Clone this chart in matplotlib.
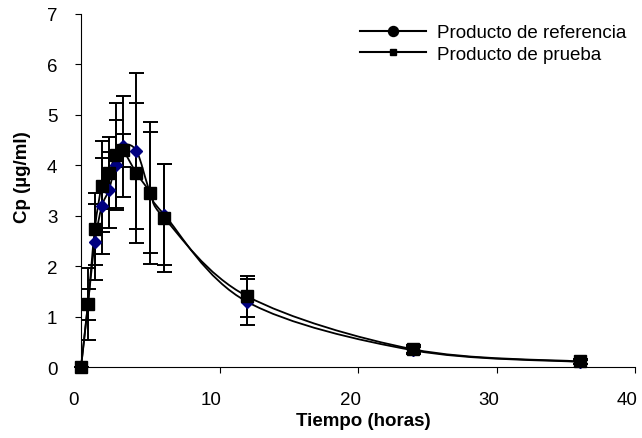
import numpy as np
import matplotlib
matplotlib.use('Agg')
import matplotlib.pyplot as plt
from matplotlib.path import Path
from matplotlib.patches import PathPatch
from matplotlib.lines import Line2D
from matplotlib.transforms import ScaledTranslation

plt.rcParams['font.family'] = ['Liberation Sans', 'DejaVu Sans']

tiempo = [0, 0.5, 1, 1.5, 2, 2.5, 3, 4, 5, 6, 12, 24, 36]
cp_referencia = [0, 1.25, 2.48, 3.18, 3.50, 4.00, 4.37, 4.28, 3.45, 3.02, 1.29, 0.33, 0.10]
de_referencia = [0, 0.72, 0.75, 0.95, 0.75, 0.90, 1.00, 1.54, 1.20, 1.00, 0.45, 0.07, 0.04]
cp_prueba = [0, 1.24, 2.74, 3.58, 3.84, 4.19, 4.29, 3.84, 3.45, 2.95, 1.40, 0.35, 0.11]
de_prueba = [0, 0.31, 0.71, 0.90, 0.71, 1.04, 0.33, 1.38, 1.41, 1.07, 0.40, 0.08, 0.05]

x_ticks = [0, 10, 20, 30, 40]
y_ticks = [0, 1, 2, 3, 4, 5, 6, 7]
FS = 13.5


def smooth_path(x, y):
    """
    Excel-like smoothed line: cubic bezier through every point,
    control points taken from the neighbouring points.
    """
    pts = np.column_stack([x, y]).astype(float)
    n = len(pts)
    verts = [pts[0]]
    codes = [Path.MOVETO]
    for i in range(n - 1):
        p_prev = pts[i - 1] if i > 0 else pts[i]
        p_next2 = pts[i + 2] if i + 2 < n else pts[i + 1]
        c1 = pts[i] + (pts[i + 1] - p_prev) / 6.0
        c2 = pts[i + 1] - (p_next2 - pts[i]) / 6.0
        verts += [c1, c2, pts[i + 1]]
        codes += [Path.CURVE4] * 3
    return Path(verts, codes)


fig = plt.figure(figsize=(6.42, 4.39), dpi=100)
ax = fig.add_axes([0.1262, 0.1617, 0.8629, 0.8052])

for cp in [cp_referencia, cp_prueba]:
    ax.add_patch(PathPatch(smooth_path(tiempo, cp), facecolor='none',
                           edgecolor='black', lw=1.3, zorder=2, clip_on=False))

for cp, de in [(cp_referencia, de_referencia), (cp_prueba, de_prueba)]:
    eb = ax.errorbar(tiempo, cp, yerr=de, fmt='none', ecolor='black',
                     elinewidth=1.4, capsize=5.4, capthick=1.4, zorder=3)
    for art in eb.lines[1] + eb.lines[2]:
        art.set_clip_on(False)
ax.plot(tiempo, cp_referencia, ls='none', marker='D', ms=6.3, color='#000080',
        zorder=4, clip_on=False)
ax.plot(tiempo, cp_prueba, ls='none', marker='s', ms=8.6, color='black',
        zorder=5, clip_on=False)

ax.set_xlim(0, 40)
ax.set_ylim(0, 7)
ax.set_xticks(x_ticks)
ax.set_yticks(y_ticks)
ax.tick_params(direction='out', length=4, width=0.8, labelsize=FS, pad=13)
for lbl in ax.get_xticklabels():
    lbl.set_transform(lbl.get_transform() + ScaledTranslation(-8 / 100, 0, fig.dpi_scale_trans))
for s in ['top', 'right']:
    ax.spines[s].set_visible(False)
for s in ['left', 'bottom']:
    ax.spines[s].set_linewidth(0.8)

ax.set_xlabel('Tiempo (horas)', fontsize=FS, fontweight='bold')
ax.set_ylabel('Cp (µg/ml)', fontsize=FS, fontweight='bold')
ax.xaxis.set_label_coords(0.51, -0.126)
ax.yaxis.set_label_coords(-0.09, 0.54)

handles = [
    Line2D([], [], color='black', lw=1.5, marker='o', ms=7.2),
    Line2D([], [], color='black', lw=1.5, marker='s', ms=5),
]
ax.legend(handles, ['Producto de referencia', 'Producto de prueba'], frameon=False,
          loc='upper left', bbox_to_anchor=(360 / 642, 1 - 25 / 439),
          bbox_transform=fig.transFigure, fontsize=FS, handlelength=3.5,
          handletextpad=0.6, labelspacing=0.25, borderpad=0, borderaxespad=0)

fig.savefig('out.png', dpi=100)
